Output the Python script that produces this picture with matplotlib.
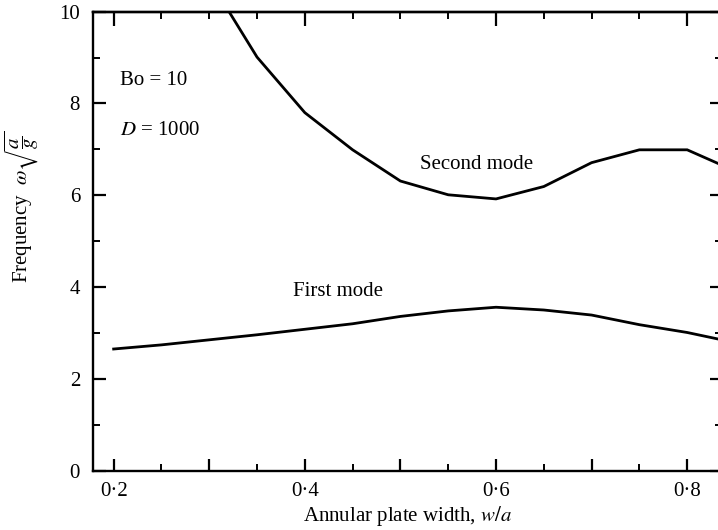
import matplotlib
matplotlib.use("Agg")
import matplotlib.pyplot as plt
from matplotlib.ticker import MultipleLocator, FixedLocator, FuncFormatter

plt.rcParams['font.family'] = ['Liberation Serif', 'DejaVu Serif']
plt.rcParams['mathtext.fontset'] = 'stix'

# Data
width_first = [0.20, 0.25, 0.30, 0.35, 0.40, 0.45, 0.50, 0.55, 0.60, 0.65, 0.70, 0.75, 0.80, 0.85]
freq_first = [2.65, 2.74, 2.85, 2.96, 3.08, 3.20, 3.36, 3.48, 3.56, 3.50, 3.39, 3.18, 3.01, 2.79]

width_second = [0.30, 0.35, 0.40, 0.45, 0.50, 0.55, 0.60, 0.65, 0.70, 0.75, 0.80, 0.85]
freq_second = [10.7, 9.01, 7.80, 6.99, 6.31, 6.01, 5.92, 6.19, 6.71, 6.99, 6.99, 6.53]

xtick_values = [0.2, 0.4, 0.6, 0.8]
xtick_labels = ['0·2', '0·4', '0·6', '0·8']
ytick_values = [0, 2, 4, 6, 8, 10]

FS = 15

fig = plt.figure(figsize=(7.18, 5.30), dpi=100)
ax = fig.add_axes([0.129, 0.112, 0.876, 0.866])

ax.plot(width_first, freq_first, color='black', lw=2.0, solid_joinstyle='miter')
ax.plot(width_second, freq_second, color='black', lw=2.0, solid_joinstyle='miter')

ax.set_xlim(0.178, 0.836)
ax.set_ylim(0, 10)

for s in ax.spines.values():
    s.set_linewidth(1.7)

# bottom ticks: long every 0.1, short every 0.05, labels at 0.2 steps
ax.xaxis.set_major_locator(FixedLocator([0.2, 0.3, 0.4, 0.5, 0.6, 0.7, 0.8]))
ax.xaxis.set_minor_locator(FixedLocator([0.25, 0.35, 0.45, 0.55, 0.65, 0.75]))
lab = dict(zip(xtick_values, xtick_labels))
ax.xaxis.set_major_formatter(FuncFormatter(
    lambda v, p: lab.get(round(v, 2), '')))
ax.yaxis.set_major_locator(FixedLocator(ytick_values))
ax.yaxis.set_minor_locator(MultipleLocator(1))

ax.tick_params(axis='both', which='major', direction='in', length=9, width=1.6,
               labelsize=FS, pad=9, top=False, right=True)
ax.tick_params(axis='both', which='minor', direction='in', length=5, width=1.4,
               top=False, right=True)
ax.tick_params(axis='x', which='major', pad=8)

top = ax.secondary_xaxis('top')
top.xaxis.set_major_locator(FixedLocator(xtick_values))
top.xaxis.set_minor_locator(FixedLocator([0.25, 0.3, 0.35, 0.45, 0.5, 0.55, 0.65, 0.7, 0.75]))
top.tick_params(which='major', direction='in', length=10, width=1.6, labeltop=False)
top.tick_params(which='minor', direction='in', length=5, width=1.4)
top.spines['top'].set_linewidth(1.7)

ax.set_xlabel(r'Annular plate width, $w/a$', fontsize=FS)
ax.xaxis.set_label_coords(0.5, -0.073)
ax.set_ylabel(r'Frequency  $\omega\sqrt{\dfrac{a}{g}}$', fontsize=FS)
ax.yaxis.set_label_coords(-0.082, 0.574)

ax.text(0.207, 8.5, 'Bo = 10', fontsize=FS, va='center', ha='left')
ax.text(0.207, 7.42, r'$D$ = 1000', fontsize=FS, va='center', ha='left')
ax.text(0.58, 6.68, 'Second mode', fontsize=FS, va='center', ha='center')
ax.text(0.435, 3.9, 'First mode', fontsize=FS, va='center', ha='center')

fig.savefig('out.png', dpi=100)
